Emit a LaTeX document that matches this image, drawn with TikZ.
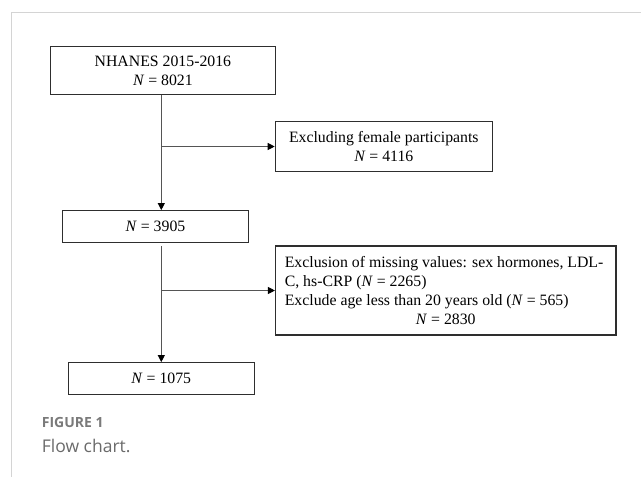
\documentclass[tikz,border=0pt]{standalone}
\usepackage{fontspec}
\setmainfont{Liberation Serif}
\newfontfamily\capfont{Open Sans}
\usetikzlibrary{arrows.meta}
\definecolor{framegray}{HTML}{D4D4D4}
\definecolor{boxline}{HTML}{2E2E2E}
\definecolor{connline}{HTML}{555555}
\definecolor{capgray}{HTML}{7A7A7A}
\definecolor{capgrayb}{HTML}{6A6A6A}
\begin{document}
\begin{tikzpicture}[x={(1pt,0)},y={(0,-1pt)},
  flowbox/.style={draw=boxline,line width=1.2pt,inner sep=0pt,align=center,
    font=\fontsize{15.8}{19.3}\selectfont},
  conn/.style={draw=connline,line width=1pt},
  arr/.style={conn,-{Triangle[length=7pt,width=7pt,color=black]}},
  frameline/.style={draw=framegray,line width=1pt}]
\useasboundingbox (0,0) rectangle (641,477);
% frame
\coordinate (ftl) at (11.7,12.7);
\coordinate (ftr) at (641,12.7);
\coordinate (fbl) at (11.7,477);
\draw[frameline] (ftr) -- (ftl) -- (fbl);
% boxes
\node[flowbox,minimum width=225.3pt,minimum height=48pt] (b1) at (162.9,70.7)
  {NHANES 2015-2016\\\textit{N} = 8021};
\node[flowbox,minimum width=217pt,minimum height=49.6pt] (b2) at (383.8,146.5)
  {Excluding female participants\\\textit{N} = 4116};
\node[flowbox,minimum width=185.6pt,minimum height=32pt] (b3) at (155.5,226.7)
  {\textit{N} = 3905};
\node[flowbox,minimum width=340.5pt,minimum height=89pt] (b4) at (445.8,290.5)
  {\parbox{322pt}{\fontsize{15.8}{18.7}\selectfont\raggedright
   Exclusion of missing values: sex hormones, LDL-\\
   C, hs-CRP (\textit{N} = 2265)\\
   Exclude age less than 20 years old (\textit{N} = 565)\par
   \centering\textit{N} = 2830\par}};
\node[flowbox,minimum width=186pt,minimum height=31.6pt] (b5) at (161.3,378.5)
  {\textit{N} = 1075};
% connector points
\coordinate (v1top) at (161.3,94.7);
\coordinate (j1) at (161.3,146.5);
\coordinate (v2top) at (161.3,246);
\coordinate (j2) at (161.3,290.5);
% connectors
\draw[conn] (v1top) -- (j1);
\draw[arr] (j1) -- (b3.north -| j1);
\draw[arr] (j1) -- (b2.west);
\draw[conn] (v2top) -- (j2);
\draw[arr] (j2) -- (b5.north);
\draw[arr] (j2) -- (b4.west);
% caption
\node[anchor=base west,inner sep=0pt,text=capgray,font=\capfont\bfseries\fontsize{14}{16}\selectfont] (cap1) at (41.7,427.3) {FIGURE 1};
\node[anchor=base west,inner sep=0pt,text=capgrayb,font=\capfont\fontsize{17.5}{20}\selectfont] (cap2) at (41.7,452.7) {Flow chart.};
\end{tikzpicture}
\end{document}
